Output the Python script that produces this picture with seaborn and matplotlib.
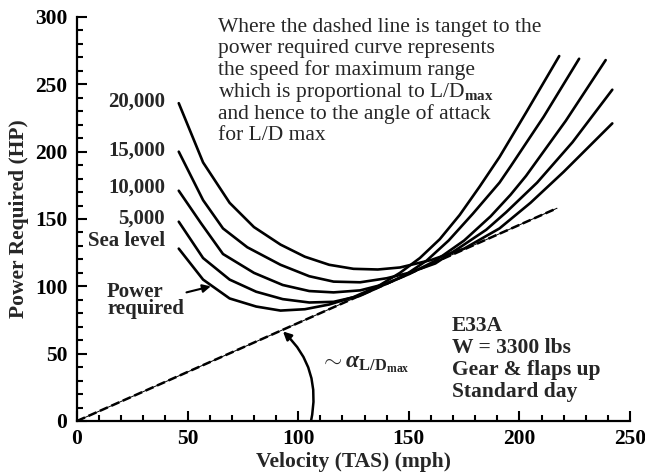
import matplotlib
matplotlib.use('Agg')
import numpy as np
import pandas as pd
import seaborn as sns
import matplotlib.pyplot as plt
from matplotlib.patches import FancyArrowPatch
from matplotlib.ticker import MultipleLocator

# ---------------- data ----------------
altitudes = ['Sea level', '5,000', '10,000', '15,000', '20,000']

V_sl = [46, 57, 69, 81, 92, 103, 114, 125, 136, 146, 155, 164, 173, 182, 191, 203, 218]
P_sl = [128, 105, 91, 85, 82, 83, 86.5, 92, 100, 110, 121, 135, 153, 174, 196, 229, 271]

V_5k = [46, 57, 69, 81, 93, 105, 116, 128, 138, 148, 158, 168, 179, 191, 196, 211, 227]
P_5k = [148, 121, 105, 96, 90.5, 88, 88.5, 93, 100.5, 108, 119, 134, 154, 177, 189, 226, 269]

V_10k = [46, 56, 66, 80, 93, 105, 116, 128, 140, 150, 162, 175, 187, 196, 203, 221, 239]
P_10k = [171, 147, 124, 110, 101, 96.5, 95.5, 97, 102, 109, 119, 134, 152, 168, 182, 223, 268]

V_15k = [46, 57, 66, 77, 92, 105, 116, 128, 140, 150, 162, 175, 185, 194, 208, 224, 242]
P_15k = [200, 164, 143, 129, 116, 107.5, 103.5, 103, 106, 110, 117, 131, 142, 155, 177, 207, 246]

V_20k = [46, 57, 69, 80, 92, 103, 114, 125, 136, 146, 160, 175, 191, 205, 220, 231, 242]
P_20k = [236, 192, 162, 144, 131, 122, 116, 113, 112.5, 114, 119.5, 128, 143, 162, 185, 203, 221]

V_tangent = [0, 217]
P_tangent = [0, 158]

x_ticks = [0, 50, 100, 150, 200, 250]
y_ticks = [0, 50, 100, 150, 200, 250, 300]

note_lines = [
    'Where the dashed line is tanget to the',
    'power required curve represents',
    'the speed for maximum range',
    r'which is proportional to L/D$_{\mathrm{max}}$',
    'and hence to the angle of attack',
    'for L/D max',
]
info_lines = ['E33A', 'W = 3300 lbs', 'Gear & flaps up', 'Standard day']

# ---------------- style ----------------
sns.set_theme(style='ticks')
plt.rcParams.update({
    'font.family': ['Liberation Serif', 'DejaVu Serif'],
    'font.weight': 'bold',
    'axes.labelweight': 'bold',
    'mathtext.fontset': 'custom',
    'mathtext.rm': 'Liberation Serif',
    'mathtext.it': 'Liberation Serif:italic',
    'mathtext.bf': 'Liberation Serif:bold',
    'axes.linewidth': 1.6,
    'axes.edgecolor': 'black',
})

fig = plt.figure(figsize=(6.45, 4.72), dpi=100)
ax = fig.add_axes([77 / 645, 51 / 472, 553 / 645, 404 / 472])

series = [(V_sl, P_sl), (V_5k, P_5k), (V_10k, P_10k), (V_15k, P_15k), (V_20k, P_20k)]
frames = []
for name, (v, p) in zip(altitudes, series):
    frames.append(pd.DataFrame({'V': v, 'P': p, 'altitude': name}))
df = pd.concat(frames, ignore_index=True)

sns.lineplot(data=df, x='V', y='P', units='altitude', estimator=None,
             color='black', lw=1.9, sort=False, ax=ax, legend=False)

# tangent line (thin solid under a dashed line)
ax.plot(V_tangent, P_tangent, color='black', lw=0.7)
ax.plot(V_tangent, P_tangent, color='black', lw=1.8, linestyle=(0, (3.5, 1.5)))

ax.set_xlim(0, 250)
ax.set_ylim(0, 300)
ax.set_xticks(x_ticks)
ax.set_yticks(y_ticks)
ax.xaxis.set_minor_locator(MultipleLocator(10))
ax.yaxis.set_minor_locator(MultipleLocator(10))
ax.tick_params(which='both', direction='in', width=1.5, colors='black',
               top=False, right=False)
ax.tick_params(which='major', length=7, labelsize=15.5)
ax.tick_params(axis='y', which='major', pad=7)
ax.tick_params(axis='x', which='major', pad=6)
ax.tick_params(which='minor', length=4)
for lab in ax.get_xticklabels() + ax.get_yticklabels():
    lab.set_fontweight('bold')
sns.despine(ax=ax)

ax.set_xlabel('Velocity (TAS) (mph)', fontsize=15.5, fontweight='bold', labelpad=2)
ax.set_ylabel('Power Required (HP)', fontsize=15.5, fontweight='bold', labelpad=4)

# altitude labels
alt_label_y = [134, 150, 173, 201, 237]
for name, yy in zip(altitudes, alt_label_y):
    ax.text(39.8, yy, name, ha='right', va='center', fontsize=15, fontweight='bold')

# explanatory note
note_y = [288.9, 273.3, 256.9, 240.6, 224.3, 208.7]
for line, yy in zip(note_lines, note_y):
    ax.text(63.7, yy, line, ha='left', va='baseline', fontsize=15.5, fontweight='normal')

# aircraft info
info_y = [66.8, 50.5, 34.2, 17.8]
for line, yy in zip(info_lines, info_y):
    ax.text(169.5, yy, line, ha='left', va='baseline', fontsize=15.5, fontweight='bold')

# power required label + arrow
ax.text(13.6, 89.4, 'Power\nrequired', ha='left', va='center', fontsize=15,
        fontweight='bold', linespacing=0.8)
ax.annotate('', xy=(60.5, 100), xytext=(49.5, 95.5),
            arrowprops=dict(arrowstyle='-|>', color='black', lw=1.5,
                            mutation_scale=12, shrinkA=0, shrinkB=0))

# angle arc
arc = FancyArrowPatch((105.8, 0), (93.1, 66.5), connectionstyle='arc3,rad=0.28',
                      arrowstyle='-|>', mutation_scale=12, color='black', lw=1.8,
                      shrinkA=0, shrinkB=0)
ax.add_patch(arc)
ax.text(110, 41.6, r'$\sim\alpha_{\mathbf{L/D}_{\mathbf{max}}}$', ha='left', va='center',
        fontsize=17, fontweight='normal')

fig.savefig('out.png', dpi=100)
